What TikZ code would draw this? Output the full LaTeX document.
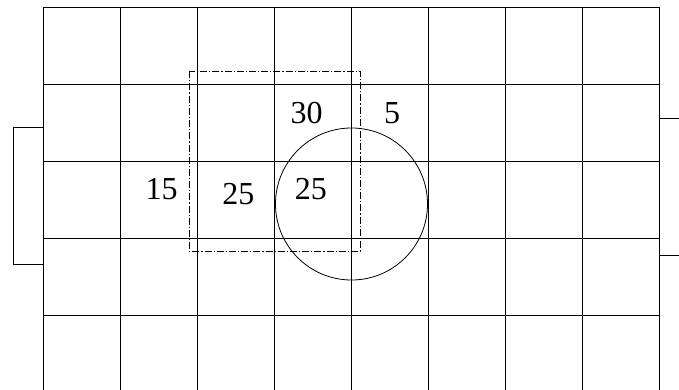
\documentclass[tikz,border=0pt]{standalone}
\usepackage{fontspec}
\setmainfont{Liberation Serif}

\begin{document}
\begin{tikzpicture}[
    x=0.5pt, y=-0.5pt,
    gridline/.style={line width=0.55pt},
    frame/.style={line width=0.5pt},
    zone/.style={line width=0.5pt, dash pattern=on 3.5pt off 1pt on 0.6pt off 1pt},
    ring/.style={line width=0.4pt},
    num/.style={anchor=base, inner sep=0pt, font=\fontsize{16}{19}\selectfont}]
\useasboundingbox (0,0) rectangle (679,390);
% grid
\foreach \i in {0,...,8}
  \draw[gridline] (43.3+77*\i,7.3) -- (43.3+77*\i,390);
\foreach \j in {0,...,4}
  \draw[gridline] (43.3,7.3+77*\j) -- (659.3,7.3+77*\j);
% side brackets
\draw[frame] (43.3,127.3) -- (13.3,127.3) -- (13.3,264) -- (43.3,264);
\draw[frame] (659.3,118) -- (679,118);
\draw[frame] (659.3,255.7) -- (679,255.7);
% dash-dot zone and circle
\draw[zone] (189,71.3) rectangle (360,251);
\coordinate (centre) at (351.5,204);
\draw[ring] (centre) circle[radius=38pt];
% values
\node[num] (v30) at (306.7,123.3) {30};
\node[num] (v5) at (392,123.3) {5};
\node[num] (v15) at (161.7,199.3) {15};
\node[num] (v25a) at (238.3,204) {25};
\node[num] (v25b) at (310.8,199.3) {25};
\end{tikzpicture}
\end{document}
